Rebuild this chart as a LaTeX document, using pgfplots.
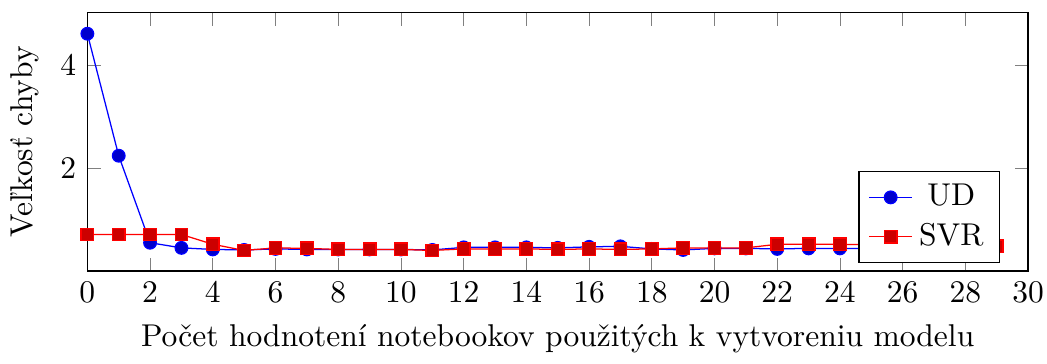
\documentclass[border=0pt]{standalone}
\usepackage{pgfplots}
\pgfplotsset{compat=1.18}
\begin{document}
\begin{tikzpicture}[trim right=(R)]
\begin{axis}[
  scale only axis,
  width=298.5pt, height=82pt,
  xmin=0, xmax=30,
  ymin=0.01, ymax=5.03,
  xtick={0,2,...,30},
  ytick={2,4},
  xlabel={Počet hodnotení notebookov použitých k vytvoreniu modelu},
  ylabel={Veľkosť chyby},
  legend style={at={(0.97,0.03)}, anchor=south east},
  legend image code/.code={\draw[mark repeat=2,mark phase=2] plot coordinates {(0cm,0cm) (0.24cm,0cm) (0.48cm,0cm)};},
]
\addplot coordinates {
(0,4.62) (1,2.25) (2,0.56) (3,0.46) (4,0.43) (5,0.42) (6,0.44) (7,0.43) (8,0.43) (9,0.43)
(10,0.43) (11,0.42) (12,0.47) (13,0.47) (14,0.47) (15,0.46) (16,0.48) (17,0.49) (18,0.44) (19,0.42)
(20,0.45) (21,0.45) (22,0.44) (23,0.45) (24,0.45) (25,0.45) (26,0.45) (27,0.45) (28,0.46) (29,0.48)
};
\addlegendentry{UD}
\addplot coordinates {
(0,0.72) (1,0.72) (2,0.72) (3,0.72) (4,0.53) (5,0.41) (6,0.46) (7,0.45) (8,0.43) (9,0.43)
(10,0.43) (11,0.41) (12,0.44) (13,0.44) (14,0.44) (15,0.43) (16,0.44) (17,0.43) (18,0.44) (19,0.46)
(20,0.46) (21,0.46) (22,0.53) (23,0.53) (24,0.53) (25,0.52) (26,0.52) (27,0.51) (28,0.50) (29,0.49)
};
\addlegendentry{SVR}
\end{axis}
\coordinate (R) at ([xshift=6pt]current axis.east);
\path ([yshift=4pt]current axis.north);
\end{tikzpicture}
\end{document}
